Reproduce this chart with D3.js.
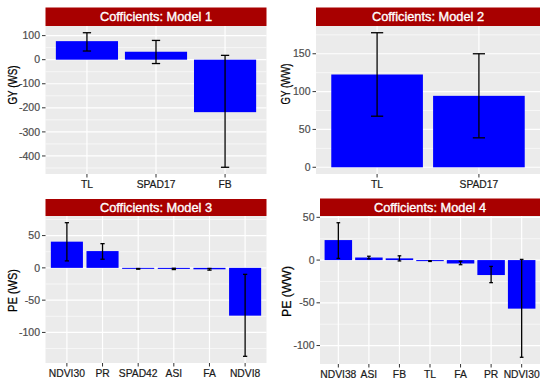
<!DOCTYPE html>
<html>
<head>
<meta charset="utf-8">
<script src="https://cdn.jsdelivr.net/npm/d3@7"></script>
<style>
  body { margin: 0; background: #fff; }
  svg { display: block; font-family: "Liberation Sans", Arial, sans-serif; }
</style>
</head>
<body>
<svg id="chart" width="550" height="388"></svg>
<script>
// Model 1: GY (WS)
var m1Cats = ["TL", "SPAD17", "FB"];
var m1Vals = [77, 33, -218];
var m1Lo = [36, -16, -447];
var m1Hi = [112, 80, 18];
var m1Ticks = [100, 0, -100, -200, -300, -400];

// Model 2: GY (WW)
var m2Cats = ["TL", "SPAD17"];
var m2Vals = [122.6, 94.4];
var m2Lo = [67.5, 38.9];
var m2Hi = [177.8, 150];
var m2Ticks = [0, 50, 100, 150];

// Model 3: PE (WS)
var m3Cats = ["NDVI30", "PR", "SPAD42", "ASI", "FA", "NDVI8"];
var m3Vals = [40.6, 26, -1.5, -1.6, -2.2, -74];
var m3Lo = [10.8, 13.4, -2, -2.6, -3.5, -137];
var m3Hi = [70, 37.5, -1, -0.6, -0.9, -10];
var m3Ticks = [50, 0, -50, -100];

// Model 4: PE (WW)
var m4Cats = ["NDVI38", "ASI", "FB", "TL", "FA", "PR", "NDVI30"];
var m4Vals = [23.4, 3, 2, -1.2, -4, -17.5, -56.8];
var m4Lo = [2, 1.5, -1, -1.6, -5.4, -26.4, -113.7];
var m4Hi = [43.7, 4.5, 5, -0.8, -1.5, -7.4, 0.8];
var m4Ticks = [50, 0, -50, -100];

var panels = [
  { title: "Cofficients: Model 1", ylab: "GY (WS)", cats: m1Cats, vals: m1Vals, lo: m1Lo, hi: m1Hi, ticks: m1Ticks,
    left: 45.5, right: 266.5, stripTop: 7.5, top: 26, bottom: 174, titleX: 13, titleY: 85, titleLen: 39 },
  { title: "Cofficients: Model 2", ylab: "GY (WW)", cats: m2Cats, vals: m2Vals, lo: m2Lo, hi: m2Hi, ticks: m2Ticks,
    left: 316, right: 540, stripTop: 7.5, top: 26, bottom: 174, titleX: 286, titleY: 84, titleLen: 41 },
  { title: "Cofficients: Model 3", ylab: "PE (WS)", cats: m3Cats, vals: m3Vals, lo: m3Lo, hi: m3Hi, ticks: m3Ticks,
    left: 45.5, right: 266.5, stripTop: 199, top: 216, bottom: 363, titleX: 13, titleY: 290.5, titleLen: 43 },
  { title: "Cofficients: Model 4", ylab: "PE (WW)", cats: m4Cats, vals: m4Vals, lo: m4Lo, hi: m4Hi, ticks: m4Ticks,
    left: 320, right: 540, stripTop: 198.5, top: 216, bottom: 364, titleX: 287, titleY: 291.5, titleLen: 51 }
];

var svg = d3.select("#chart");

panels.forEach(function (p) {
    var n = p.cats.length;

    // ggplot style expansion: 5% on y, 0.6 units on discrete x
    var lo = Math.min(0, d3.min(p.lo), d3.min(p.vals));
    var hi = Math.max(0, d3.max(p.hi), d3.max(p.vals));
    var pad = (hi - lo) * 0.05;

    var x = d3.scaleLinear().domain([0.4, n + 0.6]).range([p.left, p.right]);
    var y = d3.scaleLinear().domain([lo - pad, hi + pad]).range([p.bottom, p.top]);

    var g = svg.append("g");

    g.append("rect")
        .attr("x", p.left).attr("y", p.top)
        .attr("width", p.right - p.left).attr("height", p.bottom - p.top)
        .attr("fill", "#ebebeb");

    // minor grid
    var sorted = p.ticks.slice().sort(d3.ascending);
    var step = sorted[1] - sorted[0];
    var minor = [];
    for (var v = sorted[0] - step / 2; v <= sorted[sorted.length - 1] + step; v += step) {
        if (v > y.domain()[0] && v < y.domain()[1]) minor.push(v);
    }
    g.selectAll("line.minor").data(minor).enter().append("line")
        .attr("x1", p.left).attr("x2", p.right)
        .attr("y1", function (d) { return y(d); }).attr("y2", function (d) { return y(d); })
        .attr("stroke", "#fff").attr("stroke-width", 0.6);

    // major grid
    g.selectAll("line.hmajor").data(p.ticks).enter().append("line")
        .attr("x1", p.left).attr("x2", p.right)
        .attr("y1", function (d) { return y(d); }).attr("y2", function (d) { return y(d); })
        .attr("stroke", "#fff").attr("stroke-width", 1.2);

    g.selectAll("line.vmajor").data(p.cats).enter().append("line")
        .attr("x1", function (d, i) { return x(i + 1); }).attr("x2", function (d, i) { return x(i + 1); })
        .attr("y1", p.top).attr("y2", p.bottom)
        .attr("stroke", "#fff").attr("stroke-width", 1.2);

    // bars
    g.selectAll("rect.bar").data(p.vals).enter().append("rect")
        .attr("x", function (d, i) { return x(i + 1 - 0.45); })
        .attr("width", function () { return x(1.9) - x(1); })
        .attr("y", function (d) { return y(Math.max(0, d)); })
        .attr("height", function (d) { return Math.abs(y(d) - y(0)); })
        .attr("fill", "#0000ff");

    // error bars
    var cap = 0.06;
    var eb = g.selectAll("g.err").data(p.vals).enter().append("g")
        .attr("stroke", "#000").attr("stroke-width", 1.3);
    eb.append("line")
        .attr("x1", function (d, i) { return x(i + 1); }).attr("x2", function (d, i) { return x(i + 1); })
        .attr("y1", function (d, i) { return y(p.hi[i]); }).attr("y2", function (d, i) { return y(p.lo[i]); });
    eb.append("line")
        .attr("x1", function (d, i) { return x(i + 1 - cap); }).attr("x2", function (d, i) { return x(i + 1 + cap); })
        .attr("y1", function (d, i) { return y(p.hi[i]); }).attr("y2", function (d, i) { return y(p.hi[i]); });
    eb.append("line")
        .attr("x1", function (d, i) { return x(i + 1 - cap); }).attr("x2", function (d, i) { return x(i + 1 + cap); })
        .attr("y1", function (d, i) { return y(p.lo[i]); }).attr("y2", function (d, i) { return y(p.lo[i]); });

    // y axis ticks and labels
    g.selectAll("line.ytick").data(p.ticks).enter().append("line")
        .attr("x1", p.left - 3.5).attr("x2", p.left)
        .attr("y1", function (d) { return y(d); }).attr("y2", function (d) { return y(d); })
        .attr("stroke", "#333").attr("stroke-width", 1);
    g.selectAll("text.ylab").data(p.ticks).enter().append("text")
        .attr("x", p.left - 5.5)
        .attr("y", function (d) { return y(d); })
        .attr("dy", "0.35em")
        .attr("text-anchor", "end")
        .attr("font-size", "10.5px")
        .attr("fill", "#4d4d4d")
        .attr("stroke", "#4d4d4d").attr("stroke-width", 0.2)
        .text(function (d) { return d; });

    // x axis ticks and labels
    g.selectAll("line.xtick").data(p.cats).enter().append("line")
        .attr("x1", function (d, i) { return x(i + 1); }).attr("x2", function (d, i) { return x(i + 1); })
        .attr("y1", p.bottom).attr("y2", p.bottom + 3.5)
        .attr("stroke", "#333").attr("stroke-width", 1);
    g.selectAll("text.xlab").data(p.cats).enter().append("text")
        .attr("x", function (d, i) { return x(i + 1); })
        .attr("y", p.bottom + 10)
        .attr("dy", "0.35em")
        .attr("text-anchor", "middle")
        .attr("font-size", "10.3px")
        .attr("fill", "#1a1a1a")
        .attr("stroke", "#1a1a1a").attr("stroke-width", 0.2)
        .text(function (d) { return d; });

    // y title
    g.append("text")
        .attr("transform", "translate(" + p.titleX + "," + p.titleY + ")rotate(-90)")
        .attr("text-anchor", "middle")
        .attr("dy", "0.35em")
        .attr("font-size", "12.5px")
        .attr("fill", "#000")
        .attr("stroke", "#000").attr("stroke-width", 0.25)
        .attr("textLength", p.titleLen)
        .attr("lengthAdjust", "spacingAndGlyphs")
        .text(p.ylab);

    // strip
    g.append("rect")
        .attr("x", p.left).attr("y", p.stripTop)
        .attr("width", p.right - p.left).attr("height", p.top - p.stripTop)
        .attr("fill", "#a80000");
    g.append("text")
        .attr("x", (p.left + p.right) / 2)
        .attr("y", (p.stripTop + p.top) / 2)
        .attr("dy", "0.36em")
        .attr("text-anchor", "middle")
        .attr("font-size", "12.8px")
        .attr("fill", "#fff")
        .attr("stroke", "#fff").attr("stroke-width", 0.35)
        .text(p.title);
});
</script>
</body>
</html>
